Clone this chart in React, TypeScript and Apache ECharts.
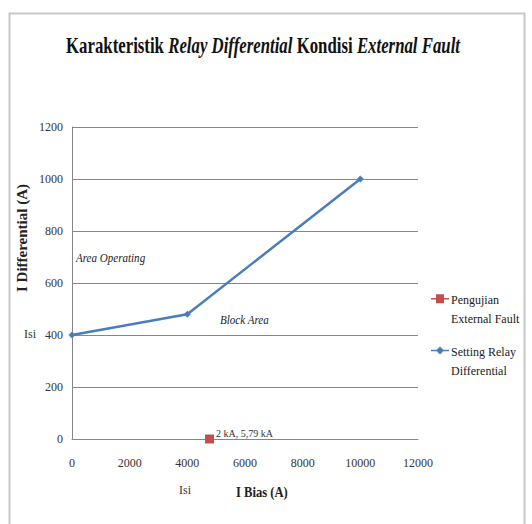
import React, { useEffect, useRef } from "react";
import * as echarts from "echarts";

const settingX = [0, 4000, 10000];
const settingY = [400, 480, 1000];
const testX = [4770];
const testY = [0];
const testLabel = "2 kA, 5,79 kA";
const seriesNames = ["Pengujian\nExternal Fault", "Setting Relay\nDifferential"];

const FONT = "Liberation Serif";

const ICON_RED = "path://M0,4.2L18,4.2L18,5.8L0,5.8Z M5,0.5L13,0.5L13,9.5L5,9.5Z M0,29.9L0.05,29.9L0.05,30L0,30Z";
const ICON_BLUE = "path://M0,4.2L18,4.2L18,5.8L0,5.8Z M9,1L13,5L9,9L5,5Z M0,29.9L0.05,29.9L0.05,30L0,30Z";

export default function App() {
  const ref = useRef<HTMLDivElement>(null);
  useEffect(() => {
    const chart = echarts.init(ref.current!, null, { renderer: "svg" });
    chart.setOption({
      animation: false,
      backgroundColor: "#fff",
      textStyle: { fontFamily: FONT },
      grid: { left: 72, right: 114, top: 127, bottom: 85 },
      xAxis: {
        type: "value",
        min: 0,
        max: 12000,
        interval: 2000,
        axisLine: { show: true, lineStyle: { color: "#868686" } },
        axisTick: { show: false },
        splitLine: { show: false },
        axisLabel: { color: "#333", fontSize: 12, fontFamily: FONT, margin: 18, formatter: (v: number) => String(v) },
      },
      yAxis: {
        type: "value",
        min: 0,
        max: 1200,
        interval: 200,
        axisLine: { show: true, lineStyle: { color: "#868686" } },
        axisTick: { show: false },
        splitLine: { show: true, lineStyle: { color: "#868686", width: 1 } },
        axisLabel: { color: "#333", fontSize: 12, fontFamily: FONT, margin: 9, formatter: (v: number) => String(v) },
      },
      legend: {
        orient: "vertical",
        left: 426,
        top: 285,
        itemWidth: 18,
        itemHeight: 30,
        itemGap: 14,
        data: [
          { name: seriesNames[0], icon: ICON_RED },
          { name: seriesNames[1], icon: ICON_BLUE },
        ],
        textStyle: { fontFamily: FONT, fontSize: 12, color: "#222", lineHeight: 19, padding: [0, 0, 0, -3] },
      },
      series: [
        {
          name: seriesNames[0],
          type: "line",
          data: testX.map((x, i) => [x, testY[i]]),
          symbol: "rect",
          symbolSize: 9,
          itemStyle: { color: "#c0504d" },
          lineStyle: { color: "#c0504d" },
          label: {
            show: true,
            position: "right",
            offset: [-3, -6],
            formatter: testLabel,
            fontFamily: FONT,
            fontSize: 10,
            color: "#333",
          },
          z: 5,
        },
        {
          name: seriesNames[1],
          type: "line",
          data: settingX.map((x, i) => [x, settingY[i]]),
          symbol: "diamond",
          symbolSize: 7,
          itemStyle: { color: "#4a7ebb" },
          lineStyle: { color: "#4a7ebb", width: 2.5 },
        },
      ],
      graphic: [
        {
          type: "rect",
          shape: { x: 9.5, y: 13.5, width: 515, height: 520 },
          style: { fill: "none", stroke: "#c8c8c8", lineWidth: 2 },
          silent: true,
        },
        {
          type: "text",
          x: 263,
          y: 45,
          scaleX: 0.7,
          style: {
            text: "{n|Karakteristik }{i|Relay Differential}{n| Kondisi }{i|External Fault}",
            align: "center",
            verticalAlign: "middle",
            rich: {
              n: { fontFamily: FONT, fontWeight: "bold", fontSize: 24, fill: "#111" },
              i: { fontFamily: FONT, fontStyle: "italic", fontWeight: "bold", fontSize: 24, fill: "#111" },
            },
          },
        },
        {
          type: "text",
          x: 22,
          y: 238,
          rotation: Math.PI / 2,
          style: {
            text: "I Differential (A)",
            fontFamily: FONT,
            fontWeight: "bold",
            fontSize: 15,
            fill: "#222",
            align: "center",
            verticalAlign: "middle",
          },
        },
        {
          type: "text",
          x: 76,
          y: 258,
          scaleX: 0.85,
          style: { text: "Area Operating", fontFamily: FONT, fontStyle: "italic", fontSize: 13, fill: "#222", verticalAlign: "middle" },
        },
        {
          type: "text",
          x: 220,
          y: 320,
          scaleX: 0.85,
          style: { text: "Block Area", fontFamily: FONT, fontStyle: "italic", fontSize: 13, fill: "#222", verticalAlign: "middle" },
        },
        {
          type: "text",
          x: 24,
          y: 334,
          style: { text: "Isi", fontFamily: FONT, fontSize: 12, fill: "#333", verticalAlign: "middle" },
        },
        {
          type: "text",
          x: 179,
          y: 490,
          style: { text: "Isi", fontFamily: FONT, fontSize: 12, fill: "#333", verticalAlign: "middle" },
        },
        {
          type: "text",
          x: 236,
          y: 492,
          scaleX: 0.9,
          style: { text: "I Bias (A)", fontFamily: FONT, fontWeight: "bold", fontSize: 14, fill: "#222", verticalAlign: "middle" },
        },
      ],
    });
    return () => chart.dispose();
  }, []);
  return <div ref={ref} style={{ position: "fixed", left: 0, top: 0, width: 532, height: 524 }} />;
}
